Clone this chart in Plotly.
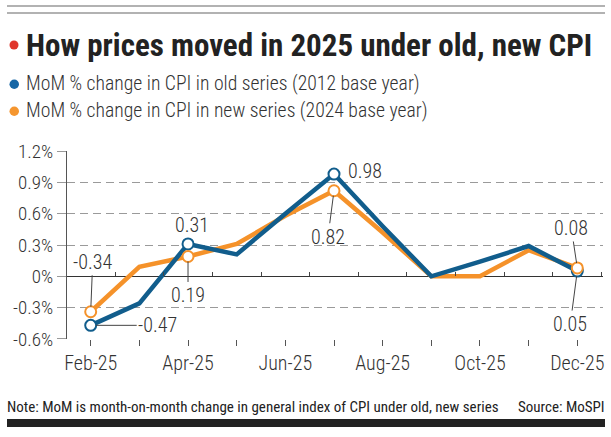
import plotly.graph_objects as go

# ---- data ----
months = ["Feb-25", "Mar-25", "Apr-25", "May-25", "Jun-25", "Jul-25",
          "Aug-25", "Sep-25", "Oct-25", "Nov-25", "Dec-25"]
old_series = [-0.47, -0.26, 0.31, 0.21, 0.60, 0.98, 0.48, 0.00, 0.14, 0.29, 0.05]
new_series = [-0.34, 0.09, 0.19, 0.31, 0.58, 0.82, 0.42, 0.00, 0.00, 0.25, 0.08]
y_ticks = [-0.6, -0.3, 0.0, 0.3, 0.6, 0.9, 1.2]
y_tick_labels = ["-0.6%", "-0.3%", "0%", "0.3%", "0.6%", "0.9%", "1.2%"]
labelled_months = ["Feb-25", "Apr-25", "Jul-25", "Dec-25"]

title = "How prices moved in 2025 under old, new CPI"
legend_old = "MoM % change in CPI in old series (2012 base year)"
legend_new = "MoM % change in CPI in new series (2024 base year)"
note = "Note: MoM is month-on-month change in general index of CPI under old, new series"
source = "Source: MoSPI"

# ---- style ----
BLUE = "#115d8c"
ORANGE = "#f5922a"
TEXT = "#333333"
FONT = "Roboto Condensed"
W, H = 611, 437
ML, MR, MT, MB = 67, 8, 151, 98

x = list(range(len(months)))
x_range = [-0.487, len(months) - 1 + 0.528]
y_range = [-0.601, 1.201]


def px(xp):
    return (xp - ML) / (W - ML - MR)


def py(yp):
    return (H - MB - yp) / (H - MT - MB)


fig = go.Figure()
fig.add_trace(go.Scatter(x=x, y=new_series, mode="lines", line=dict(color=ORANGE, width=4.5),
                         name=legend_new, hoverinfo="skip"))
fig.add_trace(go.Scatter(x=x, y=old_series, mode="lines", line=dict(color=BLUE, width=4.5),
                         name=legend_old, hoverinfo="skip"))

idx = [months.index(m) for m in labelled_months]
fig.add_trace(go.Scatter(x=[x[i] for i in idx], y=[old_series[i] for i in idx], mode="markers",
                         marker=dict(size=11, color="white", line=dict(color=BLUE, width=2)),
                         hoverinfo="skip"))
fig.add_trace(go.Scatter(x=[x[i] for i in idx], y=[new_series[i] for i in idx], mode="markers",
                         marker=dict(size=11, color="white", line=dict(color=ORANGE, width=2)),
                         hoverinfo="skip"))
# invisible trace to host the zero-line tick axis
fig.add_trace(go.Scatter(x=[x[0]], y=[0], xaxis="x2", mode="markers", marker=dict(opacity=0),
                         hoverinfo="skip"))


def fmt(v):
    return f"{v:.2f}"


lab_font = dict(family=FONT, size=20, color=TEXT, weight=300)
# (series, month, ax, ay, arrow, xshift, yshift, xanchor)
label_specs = [
    (new_series, "Feb-25", 2, -50, True, 0, 0, "center"),
    (old_series, "Feb-25", 67, 0, True, 0, 0, "center"),
    (old_series, "Apr-25", 0, 0, False, 4, 19, "center"),
    (new_series, "Apr-25", 0, 39, True, 0, 0, "center"),
    (old_series, "Jul-25", 0, 0, False, 12, 3, "left"),
    (new_series, "Jul-25", -6, 46, True, 0, 0, "center"),
    (new_series, "Dec-25", -6, -40, True, 0, 0, "center"),
    (old_series, "Dec-25", -7, 53, True, 0, 0, "center"),
]
for ser, m, ax, ay, arrow, xs, ys, xa in label_specs:
    i = months.index(m)
    fig.add_annotation(x=x[i], y=ser[i], xref="x", yref="y", text=fmt(ser[i]), font=lab_font,
                       showarrow=arrow, ax=ax, ay=ay, axref="pixel", ayref="pixel",
                       arrowhead=0, arrowwidth=1, arrowcolor="#444444", standoff=5,
                       xshift=xs, yshift=ys, xanchor=xa, yanchor="middle")

# titles, legend, note
fig.add_annotation(x=px(24), y=py(45), xref="paper", yref="paper", xanchor="left", yanchor="middle",
                   text=title, showarrow=False,
                   font=dict(family=FONT, size=31, color="#222222", weight=700))
fig.add_annotation(x=px(24), y=py(84), xref="paper", yref="paper", xanchor="left", yanchor="middle",
                   text=legend_old, showarrow=False, font=dict(family=FONT, size=19.7, color=TEXT, weight=300))
fig.add_annotation(x=px(24), y=py(111), xref="paper", yref="paper", xanchor="left", yanchor="middle",
                   text=legend_new, showarrow=False, font=dict(family=FONT, size=19.7, color=TEXT, weight=300))
fig.add_annotation(x=px(5), y=py(407), xref="paper", yref="paper", xanchor="left", yanchor="middle",
                   text=note, showarrow=False, font=dict(family=FONT, size=15, color="#222222"))
fig.add_annotation(x=px(607), y=py(407), xref="paper", yref="paper", xanchor="right", yanchor="middle",
                   text=source, showarrow=False, font=dict(family=FONT, size=15, color="#222222"))

shapes = [
    dict(type="line", xref="paper", yref="paper", x0=px(7), x1=px(605), y0=py(6), y1=py(6),
         line=dict(color="#666666", width=1.2)),
    dict(type="line", xref="paper", yref="paper", x0=px(7), x1=px(605), y0=py(13), y1=py(13),
         line=dict(color="#666666", width=1.2)),
    dict(type="rect", xref="paper", yref="paper", x0=px(7), x1=px(605), y0=py(419), y1=py(427),
         fillcolor="#222222", line=dict(width=0)),
    dict(type="circle", xref="paper", yref="paper", x0=px(9.5), x1=px(18.5), y0=py(40.5), y1=py(49.5),
         fillcolor="#e0362c", line=dict(width=0)),
    dict(type="circle", xref="paper", yref="paper", x0=px(9.5), x1=px(19), y0=py(79.5), y1=py(89),
         fillcolor="#1767a6", line=dict(width=0)),
    dict(type="circle", xref="paper", yref="paper", x0=px(9.5), x1=px(19), y0=py(106.5), y1=py(116),
         fillcolor="#f5962f", line=dict(width=0)),
]

fig.update_layout(
    width=W, height=H, margin=dict(l=ML, r=MR, t=MT, b=MB, autoexpand=False),
    paper_bgcolor="white", plot_bgcolor="white", showlegend=False, shapes=shapes,
    font=dict(family=FONT, color=TEXT),
    xaxis=dict(range=x_range, tickvals=x,
               ticktext=[m if i % 2 == 0 else "" for i, m in enumerate(months)],
               showgrid=False, zeroline=False, showline=False, ticks="outside", ticklen=6,
               tickwidth=1, tickcolor="#555555",
               tickfont=dict(family=FONT, size=20, color=TEXT, weight=300)),
    xaxis2=dict(range=x_range, overlaying="x", anchor="free",
                position=(0 - y_range[0]) / (y_range[1] - y_range[0]),
                tickvals=[v + 0.5 for v in x], showticklabels=False, showgrid=False, zeroline=False,
                showline=False, ticks="inside", ticklen=4, tickcolor="#444444", tickwidth=1),
    yaxis=dict(range=y_range, tickvals=y_ticks, ticktext=y_tick_labels, showgrid=True,
               gridcolor="#9a9a9a", griddash="8px,5px", gridwidth=1,
               zeroline=True, zerolinecolor="#333333", zerolinewidth=1.2,
               showline=True, linecolor="#555555", linewidth=1,
               ticks="outside", ticklen=9, tickcolor="#9a9a9a", tickwidth=1,
               tickfont=dict(family=FONT, size=19, color=TEXT, weight=300)),
)

fig.write_html("out.html", config={"displayModeBar": False},
               post_script="document.body.style.margin='0';")
